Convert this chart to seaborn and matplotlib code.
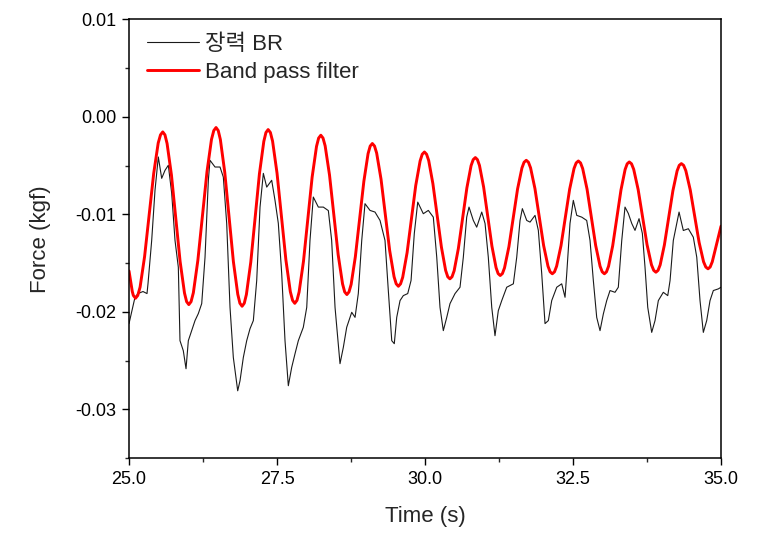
import matplotlib
matplotlib.use("Agg")
import matplotlib.pyplot as plt
import seaborn as sns
import pandas as pd
from matplotlib.ticker import MultipleLocator, FormatStrFormatter

# Band pass filter output (s, kgf)
filt_t = [
    25.000, 25.055, 25.110, 25.187, 25.263, 25.340, 25.417, 25.493,
    25.570, 25.643, 25.717, 25.790, 25.863, 25.937, 26.010, 26.087,
    26.163, 26.240, 26.317, 26.393, 26.470, 26.543, 26.617, 26.690,
    26.763, 26.837, 26.910, 26.983, 27.057, 27.130, 27.203, 27.277,
    27.350, 27.425, 27.500, 27.575, 27.650, 27.725, 27.800, 27.873,
    27.947, 28.020, 28.093, 28.167, 28.240, 28.313, 28.387, 28.460,
    28.533, 28.607, 28.680, 28.752, 28.823, 28.895, 28.967, 29.038,
    29.110, 29.183, 29.257, 29.330, 29.403, 29.477, 29.550, 29.623,
    29.697, 29.770, 29.843, 29.917, 29.990, 30.062, 30.133, 30.205,
    30.277, 30.348, 30.420, 30.492, 30.563, 30.635, 30.707, 30.778,
    30.850, 30.920, 30.990, 31.060, 31.130, 31.200, 31.270, 31.343,
    31.417, 31.490, 31.563, 31.637, 31.710, 31.783, 31.857, 31.930,
    32.003, 32.077, 32.150, 32.223, 32.297, 32.370, 32.443, 32.517,
    32.590, 32.663, 32.737, 32.810, 32.883, 32.957, 33.030, 33.100,
    33.170, 33.240, 33.310, 33.380, 33.450, 33.525, 33.600, 33.675,
    33.750, 33.825, 33.900, 33.972, 34.043, 34.115, 34.187, 34.258,
    34.330, 34.405, 34.480, 34.555, 34.630, 34.705, 34.780, 34.852,
    34.923, 35.000,
]
filt_f = [
    -0.01580, -0.01790, -0.01860, -0.01746, -0.01433, -0.01007, -0.00580, -0.00268,
    -0.00154, -0.00273, -0.00597, -0.01040, -0.01482, -0.01806, -0.01925, -0.01803,
    -0.01471, -0.01017, -0.00563, -0.00231, -0.00109, -0.00232, -0.00567, -0.01026,
    -0.01484, -0.01819, -0.01942, -0.01821, -0.01489, -0.01036, -0.00583, -0.00251,
    -0.00130, -0.00249, -0.00576, -0.01021, -0.01467, -0.01793, -0.01912, -0.01796,
    -0.01481, -0.01050, -0.00619, -0.00303, -0.00188, -0.00297, -0.00597, -0.01005,
    -0.01414, -0.01713, -0.01822, -0.01718, -0.01435, -0.01047, -0.00660, -0.00377,
    -0.00273, -0.00371, -0.00639, -0.01005, -0.01371, -0.01639, -0.01737, -0.01645,
    -0.01393, -0.01048, -0.00704, -0.00452, -0.00360, -0.00447, -0.00685, -0.01011,
    -0.01336, -0.01574, -0.01661, -0.01578, -0.01350, -0.01039, -0.00728, -0.00500,
    -0.00417, -0.00498, -0.00720, -0.01022, -0.01325, -0.01546, -0.01627, -0.01548,
    -0.01331, -0.01036, -0.00740, -0.00524, -0.00445, -0.00523, -0.00736, -0.01027,
    -0.01318, -0.01531, -0.01609, -0.01531, -0.01320, -0.01030, -0.00741, -0.00529,
    -0.00452, -0.00530, -0.00741, -0.01030, -0.01320, -0.01532, -0.01609, -0.01532,
    -0.01322, -0.01035, -0.00749, -0.00539, -0.00462, -0.00538, -0.00745, -0.01028,
    -0.01310, -0.01517, -0.01593, -0.01518, -0.01314, -0.01036, -0.00757, -0.00554,
    -0.00479, -0.00551, -0.00749, -0.01019, -0.01288, -0.01486, -0.01558, -0.01486,
    -0.01310, -0.01120,
]
# extra samples on the rounded crests / troughs of the filter curve
tip_t = [
    25.073, 25.148, 25.532, 25.607, 25.973, 26.048, 26.432, 26.507,
    26.873, 26.947, 27.313, 27.388, 27.763, 27.837, 28.203, 28.277,
    28.643, 28.716, 29.074, 29.147, 29.513, 29.587, 29.953, 30.026,
    30.384, 30.456, 30.814, 30.885, 31.235, 31.307, 31.673, 31.747,
    32.113, 32.187, 32.553, 32.627, 32.993, 33.065, 33.415, 33.488,
    33.863, 33.936, 34.294, 34.368, 34.743, 34.816,
]
tip_f = [
    -0.01831, -0.01831, -0.00184, -0.00184, -0.01895, -0.01895, -0.00140, -0.00140,
    -0.01911, -0.01911, -0.00160, -0.00160, -0.01882, -0.01882, -0.00217, -0.00217,
    -0.01795, -0.01795, -0.00299, -0.00299, -0.01712, -0.01712, -0.00383, -0.00383,
    -0.01640, -0.01640, -0.00438, -0.00438, -0.01607, -0.01607, -0.00465, -0.00465,
    -0.01589, -0.01589, -0.00472, -0.00472, -0.01589, -0.01589, -0.00481, -0.00481,
    -0.01574, -0.01574, -0.00497, -0.00497, -0.01540, -0.01540,
]

raw_t = [
    25.000, 25.101, 25.152, 25.236, 25.304, 25.321, 25.383, 25.439,
    25.495, 25.552, 25.608, 25.664, 25.721, 25.777, 25.833, 25.861,
    25.917, 25.963, 26.002, 26.059, 26.115, 26.171, 26.228, 26.284,
    26.340, 26.368, 26.453, 26.537, 26.593, 26.650, 26.706, 26.762,
    26.836, 26.875, 26.931, 26.988, 27.044, 27.100, 27.157, 27.213,
    27.269, 27.326, 27.410, 27.466, 27.522, 27.579, 27.635, 27.691,
    27.748, 27.804, 27.860, 27.944, 28.002, 28.057, 28.113, 28.198,
    28.282, 28.367, 28.423, 28.480, 28.564, 28.620, 28.677, 28.762,
    28.818, 28.873, 28.931, 28.986, 29.071, 29.155, 29.240, 29.324,
    29.380, 29.438, 29.481, 29.522, 29.578, 29.633, 29.708, 29.764,
    29.819, 29.877, 29.971, 30.056, 30.140, 30.198, 30.253, 30.309,
    30.367, 30.422, 30.507, 30.591, 30.647, 30.704, 30.743, 30.816,
    30.873, 30.958, 31.014, 31.069, 31.127, 31.182, 31.238, 31.296,
    31.380, 31.492, 31.549, 31.605, 31.644, 31.718, 31.774, 31.858,
    31.914, 31.971, 32.027, 32.083, 32.140, 32.225, 32.309, 32.365,
    32.394, 32.449, 32.505, 32.563, 32.647, 32.731, 32.787, 32.843,
    32.900, 32.956, 33.012, 33.069, 33.125, 33.209, 33.265, 33.323,
    33.378, 33.434, 33.492, 33.547, 33.615, 33.671, 33.716, 33.762,
    33.829, 33.885, 33.941, 34.025, 34.100, 34.139, 34.194, 34.291,
    34.363, 34.448, 34.532, 34.590, 34.645, 34.701, 34.758, 34.814,
    34.870, 34.954, 35.000,
]
raw_f = [
    -0.02120, -0.01850, -0.01812, -0.01791, -0.01812, -0.01709, -0.01267, -0.00753,
    -0.00411, -0.00630, -0.00548, -0.00496, -0.00784, -0.01267, -0.01542, -0.02295,
    -0.02398, -0.02583, -0.02295, -0.02192, -0.02089, -0.02017, -0.01915, -0.01439,
    -0.00650, -0.00445, -0.00514, -0.00514, -0.00617, -0.01092, -0.01953, -0.02467,
    -0.02809, -0.02706, -0.02467, -0.02295, -0.02172, -0.02089, -0.01678, -0.00925,
    -0.00579, -0.00720, -0.00650, -0.00856, -0.01092, -0.01606, -0.02295, -0.02757,
    -0.02569, -0.02429, -0.02295, -0.02158, -0.01953, -0.01267, -0.00822, -0.00925,
    -0.00925, -0.00961, -0.01267, -0.01953, -0.02531, -0.02364, -0.02158, -0.02004,
    -0.02056, -0.01812, -0.01267, -0.00890, -0.00959, -0.00976, -0.01062, -0.01267,
    -0.01781, -0.02295, -0.02326, -0.02056, -0.01884, -0.01833, -0.01812, -0.01678,
    -0.01195, -0.00874, -0.00993, -0.00959, -0.01028, -0.01439, -0.01953, -0.02192,
    -0.02056, -0.01915, -0.01812, -0.01747, -0.01439, -0.01028, -0.00925, -0.01062,
    -0.01131, -0.00976, -0.01093, -0.01439, -0.01953, -0.02244, -0.01987, -0.01884,
    -0.01747, -0.01712, -0.01439, -0.01062, -0.00941, -0.01062, -0.01079, -0.01010,
    -0.01164, -0.01606, -0.02120, -0.02089, -0.01884, -0.01747, -0.01712, -0.01850,
    -0.01606, -0.01092, -0.00856, -0.01010, -0.01028, -0.01062, -0.01267, -0.01678,
    -0.02056, -0.02192, -0.02021, -0.01884, -0.01781, -0.01799, -0.01747, -0.01267,
    -0.00925, -0.00990, -0.01093, -0.01164, -0.01044, -0.01195, -0.01542, -0.01953,
    -0.02210, -0.02089, -0.01884, -0.01799, -0.01833, -0.01678, -0.01267, -0.00976,
    -0.01165, -0.01147, -0.01234, -0.01439, -0.01884, -0.02210, -0.02089, -0.01884,
    -0.01781, -0.01764, -0.01747,
]

raw_label = "장력 BR"
filt_label = "Band pass filter"

raw = pd.DataFrame({"t": raw_t, "f": raw_f})
filt = pd.concat([pd.DataFrame({"t": filt_t, "f": filt_f}),
                  pd.DataFrame({"t": tip_t, "f": tip_f})]).sort_values("t")

sns.set_theme(style="ticks")
plt.rcParams["font.family"] = ["Liberation Sans", "Noto Sans CJK KR", "DejaVu Sans"]
plt.rcParams["axes.unicode_minus"] = False

fig = plt.figure(figsize=(7.8, 5.39), dpi=100)
ax = fig.add_axes([0.1654, 0.150, 0.759, 0.814])

sns.lineplot(data=raw, x="t", y="f", ax=ax, color="#1a1a1a", lw=0.8,
             sort=False, estimator=None, label=raw_label)
sns.lineplot(data=filt, x="t", y="f", ax=ax, color="#ff0000", lw=2.1,
             sort=False, estimator=None, label=filt_label,
             solid_joinstyle="round")

ax.set_xlim(25, 35)
ax.set_ylim(-0.035, 0.01)
ax.xaxis.set_major_locator(MultipleLocator(2.5))
ax.xaxis.set_minor_locator(MultipleLocator(1.25))
ax.yaxis.set_major_locator(MultipleLocator(0.01))
ax.yaxis.set_minor_locator(MultipleLocator(0.005))
ax.xaxis.set_major_formatter(FormatStrFormatter("%.1f"))
ax.yaxis.set_major_formatter(FormatStrFormatter("%.2f"))
ax.tick_params(which="major", direction="out", length=5, width=1.0,
               labelsize=13, colors="black", pad=4)
ax.tick_params(which="minor", direction="out", length=3, width=1.0)
for s in ax.spines.values():
    s.set_linewidth(1.1)
    s.set_color("black")

ax.set_xlabel("Time (s)", fontsize=16, labelpad=13)
ax.set_ylabel("Force (kgf)", fontsize=16, labelpad=18)

ax.legend(loc="upper left", bbox_to_anchor=(0.015, 0.988), frameon=False,
          fontsize=16, handlelength=2.35, handletextpad=0.25,
          labelspacing=0.33, borderaxespad=0)

fig.savefig("out.png", dpi=100)
